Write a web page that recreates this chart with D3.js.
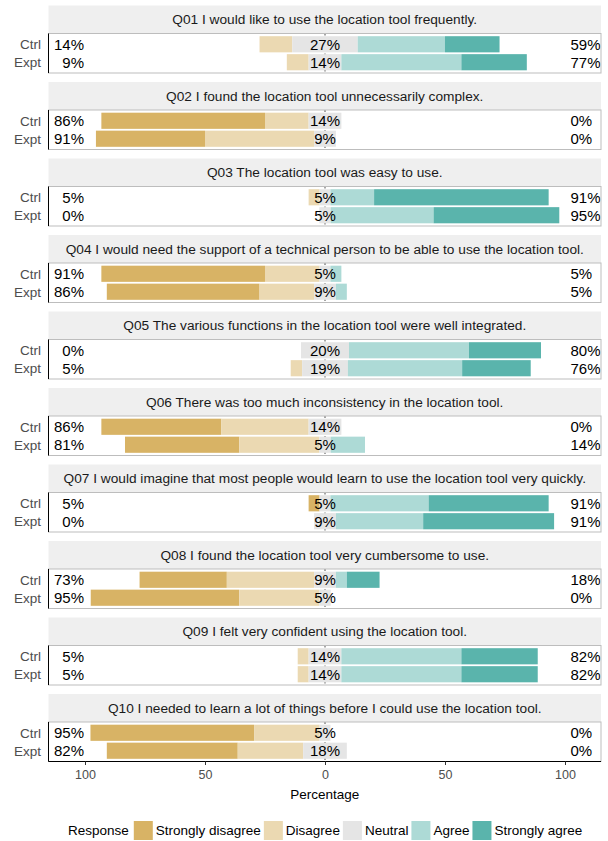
<!DOCTYPE html>
<html><head><meta charset="utf-8">
<script src="https://cdn.jsdelivr.net/npm/d3@7"></script>
<style>
body{margin:0;background:#fff}
text{font-family:"Liberation Sans",Arial,Helvetica,sans-serif}
</style>
</head><body>
<svg id="chart" width="608" height="841"></svg>
<script>
// ---------------- data ----------------
const questions = [
  "Q01 I would like to use the location tool frequently.",
  "Q02 I found the location tool unnecessarily complex.",
  "Q03 The location tool was easy to use.",
  "Q04 I would need the support of a technical person to be able to use the location tool.",
  "Q05 The various functions in the location tool were well integrated.",
  "Q06 There was too much inconsistency in the location tool.",
  "Q07 I would imagine that most people would learn to use the location tool very quickly.",
  "Q08 I found the location tool very cumbersome to use.",
  "Q09 I felt very confident using the location tool.",
  "Q10 I needed to learn a lot of things before I could use the location tool."
];
const groups = ["Ctrl", "Expt"];
const levels = ["Strongly disagree", "Disagree", "Neutral", "Agree", "Strongly agree"];
const levelColors = ["#D8B365", "#EBD9B2", "#E5E5E5", "#ADDAD6", "#5AB4AC"];
// percentages per question: [Ctrl, Expt]
const stronglyDisagree = [[0,0],[68.18,45.45],[0,0],[68.18,63.64],[0,0],[50,47.62],[4.55,0],[36.36,61.90],[0,0],[68.18,54.55]];
const disagree         = [[13.64,9.09],[18.18,45.45],[4.55,0],[22.73,22.73],[0,4.76],[36.36,33.33],[0,0],[36.36,33.33],[4.55,4.55],[27.27,27.27]];
const neutral          = [[27.27,13.64],[13.64,9.09],[4.55,4.76],[4.55,9.09],[20,19.05],[13.64,4.76],[4.55,9.09],[9.09,4.76],[13.64,13.64],[4.55,18.18]];
const agree            = [[36.36,50],[0,0],[18.18,42.86],[4.55,4.55],[50,47.62],[0,14.29],[40.91,36.36],[4.55,0],[50,50],[0,0]];
const stronglyAgree    = [[22.73,27.27],[0,0],[72.73,52.38],[0,0],[30,28.57],[0,0],[50,54.55],[13.64,0],[31.82,31.82],[0,0]];
const xTicks = [-100, -50, 0, 50, 100];
const xTitle = "Percentage";
const legendTitle = "Response";

// ---------------- layout ----------------
const svg = d3.select("#chart");
const plotL = 48.5, plotR = 601;
const top0 = 5.5, stripH = 28, panelH = 39.5, period = 76.5;
const x = d3.scaleLinear().domain([-100, 100]).range([85, 565]);
const font = 15;

const series = [stronglyDisagree, disagree, neutral, agree, stronglyAgree];

questions.forEach((q, qi) => {
  const sTop = top0 + qi * period;
  const pTop = sTop + stripH;
  const pBot = pTop + panelH;
  const g = svg.append("g");
  // strip
  g.append("rect").attr("x", plotL).attr("y", sTop).attr("width", plotR - plotL).attr("height", stripH)
    .attr("fill", "#EFEFEF");
  g.append("text").attr("x", (plotL + plotR) / 2).attr("y", sTop + stripH / 2).attr("dy", "0.35em")
    .attr("text-anchor", "middle").attr("font-size", 13.7).attr("fill", "#1A1A1A").text(q);
  // panel
  g.append("rect").attr("x", plotL).attr("y", pTop).attr("width", plotR - plotL).attr("height", panelH)
    .attr("fill", "#fff");
  g.append("line").attr("x1", x(0)).attr("x2", x(0)).attr("y1", pTop).attr("y2", pBot)
    .attr("stroke", "#222").attr("stroke-width", 0.8).attr("stroke-dasharray", "2,2");
  const y = d3.scaleBand().domain(groups).range([pTop, pBot]).paddingInner(0.1).paddingOuter(0.15);
  groups.forEach((grp, gi) => {
    const v = series.map(s => s[qi][gi]);
    const half = v[2] / 2;
    const segs = [
      [-half - v[1] - v[0], -half - v[1]],
      [-half - v[1], -half],
      [-half, half],
      [half, half + v[3]],
      [half + v[3], half + v[3] + v[4]]
    ];
    segs.forEach((s, li) => {
      if (v[li] <= 0) return;
      g.append("rect").attr("x", x(s[0])).attr("y", y(grp))
        .attr("width", x(s[1]) - x(s[0])).attr("height", y.bandwidth())
        .attr("fill", levelColors[li]);
    });
    const cy = y(grp) + y.bandwidth() / 2;
    const low = Math.round(v[0] + v[1]), mid = Math.round(v[2]), high = Math.round(v[3] + v[4]);
    g.append("text").attr("x", 84).attr("y", cy).attr("dy", "0.36em").attr("text-anchor", "end")
      .attr("font-size", font).attr("fill", "#000").text(low + "%");
    g.append("text").attr("x", x(0)).attr("y", cy).attr("dy", "0.36em").attr("text-anchor", "middle")
      .attr("font-size", font).attr("fill", "#000").text(mid + "%");
    g.append("text").attr("x", 570.5).attr("y", cy).attr("dy", "0.36em").attr("text-anchor", "start")
      .attr("font-size", font).attr("fill", "#000").text(high + "%");
    g.append("text").attr("x", 41).attr("y", cy).attr("dy", "0.36em").attr("text-anchor", "end")
      .attr("font-size", 13.5).attr("fill", "#4D4D4D").text(grp);
  });
  // border
  g.append("rect").attr("x", plotL).attr("y", pTop).attr("width", plotR - plotL).attr("height", panelH)
    .attr("fill", "none").attr("stroke", "#BDBDBD").attr("stroke-width", 1);
  g.append("line").attr("x1", plotL).attr("x2", plotL).attr("y1", pTop).attr("y2", pBot)
    .attr("stroke", "#000").attr("stroke-width", 1);
  if (qi === questions.length - 1) {
    g.append("line").attr("x1", plotL).attr("x2", plotR).attr("y1", pBot).attr("y2", pBot)
      .attr("stroke", "#000").attr("stroke-width", 1);
    const ax = g.append("g").attr("transform", `translate(0,${pBot})`)
      .call(d3.axisBottom(x).tickValues(xTicks).tickFormat(d => Math.abs(d)).tickSize(3.5).tickPadding(5));
    ax.select(".domain").remove();
    ax.selectAll(".tick line").attr("stroke", "#333");
    ax.selectAll(".tick text").attr("font-size", 12.5).attr("fill", "#4D4D4D")
      .attr("font-family", '"Liberation Sans",Arial,sans-serif');
    svg.append("text").attr("x", (plotL + plotR) / 2).attr("y", pBot + 37).attr("text-anchor", "middle")
      .attr("font-size", 13.5).attr("fill", "#000").text(xTitle);
  }
});

// legend
const legY = 830.5;
const leg = svg.append("g");
let lx = 68;
const lt = leg.append("text").attr("x", lx).attr("y", legY).attr("dy", "0.36em")
  .attr("font-size", 13.5).attr("fill", "#000").text(legendTitle);
lx += lt.node().getComputedTextLength() + 5;
levels.forEach((lv, i) => {
  leg.append("rect").attr("x", lx).attr("y", legY - 9.5).attr("width", 19).attr("height", 19)
    .attr("fill", levelColors[i]);
  const t = leg.append("text").attr("x", lx + 22).attr("y", legY).attr("dy", "0.36em")
    .attr("font-size", 13.5).attr("fill", "#000").text(lv);
  lx += 22 + t.node().getComputedTextLength() + 3;
});
</script>
</body></html>
